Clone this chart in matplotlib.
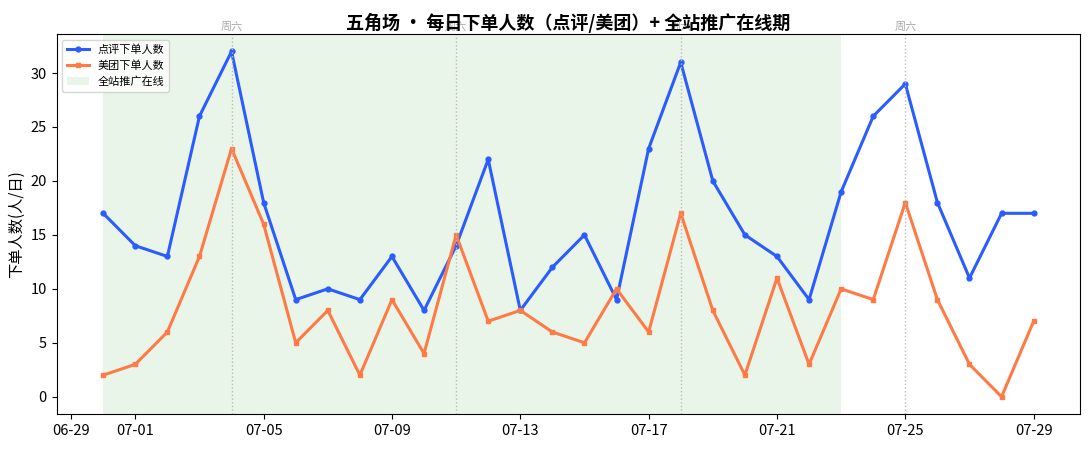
import numpy as np
import pandas as pd
import matplotlib
matplotlib.use('Agg')
import matplotlib.pyplot as plt
import matplotlib.dates as mdates

plt.rcParams['font.family'] = ['Noto Sans CJK SC', 'DejaVu Sans']
plt.rcParams['axes.unicode_minus'] = False

# 每日数据 06-30 ~ 07-29
dates = pd.date_range('2020-06-30', '2020-07-29', freq='D')
dianping = [17, 14, 13, 26, 32, 18, 9, 10, 9, 13, 8, 14, 22, 8, 12,
            15, 9, 23, 31, 20, 15, 13, 9, 19, 26, 29, 18, 11, 17, 17]
meituan = [2, 3, 6, 13, 23, 16, 5, 8, 2, 9, 4, 15, 7, 8, 6,
           5, 10, 6, 17, 8, 2, 11, 3, 10, 9, 18, 9, 3, 0, 7]
promo_start = pd.Timestamp('2020-06-30')
promo_end = pd.Timestamp('2020-07-23')
saturdays = [d for d in dates if d.weekday() == 5]

fig, ax = plt.subplots(figsize=(10.9, 4.5), dpi=100)
fig.subplots_adjust(left=0.052, right=0.991, top=0.924, bottom=0.08)

ax.axvspan(promo_start, promo_end, color='#c8e6c9', alpha=0.4, lw=0, label='全站推广在线')
ax.plot(dates, dianping, color='#2b5cff', lw=2.2, marker='o', ms=3.5, label='点评下单人数')
ax.plot(dates, meituan, color='#ff7a45', lw=2.2, marker='s', ms=3.5, label='美团下单人数')

ax.xaxis.set_major_formatter(mdates.DateFormatter('%m-%d'))
ax.set_ylabel('下单人数(人/日)', fontsize=11)
ax.tick_params(labelsize=10.5)

ymax = ax.get_ylim()[1]
for d in saturdays:
    ax.axvline(d, color='#bbbbbb', ls=':', lw=1)
    ax.text(d, ymax + 0.2, '周六', ha='center', va='bottom', fontsize=8, color='#aaaaaa')

ax.set_title('五角场 • 每日下单人数（点评/美团）+ 全站推广在线期', fontsize=13, fontweight='bold', pad=4)

h, l = ax.get_legend_handles_labels()
order = [1, 2, 0]
ax.legend([h[i] for i in order], [l[i] for i in order], loc='upper left', fontsize=8)

fig.savefig('out.png')
